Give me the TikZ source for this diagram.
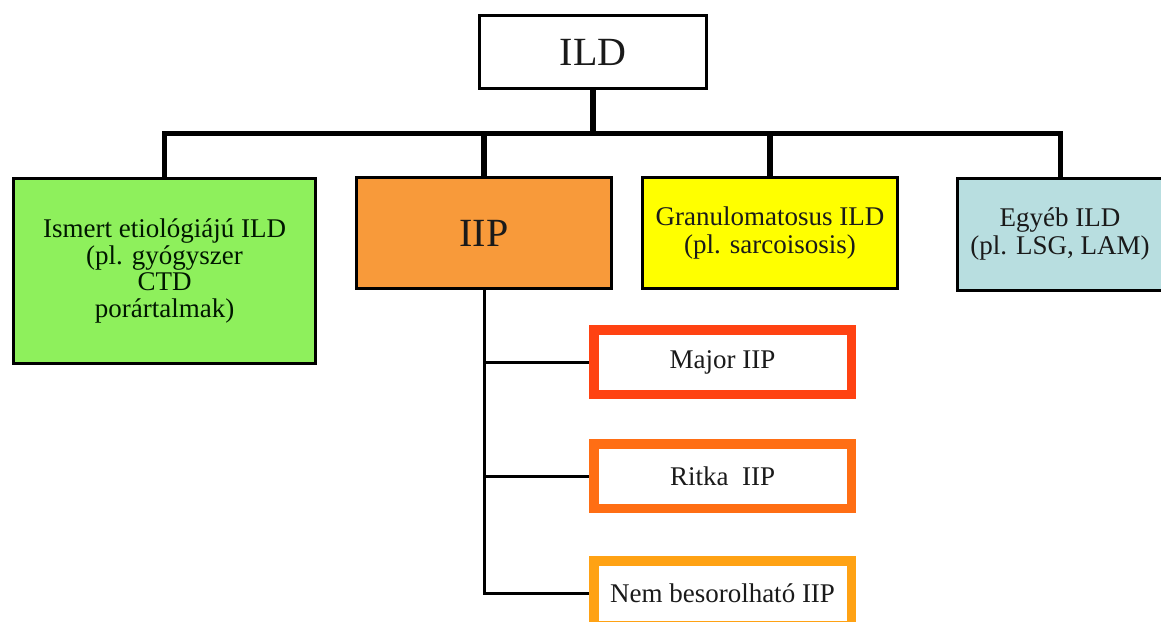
\documentclass[tikz,border=0pt]{standalone}
\usepackage{fontspec}
\setmainfont{Liberation Serif}
\definecolor{txt}{HTML}{1A1A1A}
\definecolor{greenfill}{HTML}{8EF05C}
\definecolor{orangefill}{HTML}{F89A3A}
\definecolor{yellowfill}{HTML}{FFFF00}
\definecolor{bluefill}{HTML}{B8DEE0}
\definecolor{majorc}{HTML}{FF4212}
\definecolor{ritkac}{HTML}{FF6E14}
\definecolor{nemc}{HTML}{FFA214}
\tikzset{
  box/.style={draw=black, line width=3pt, inner sep=0pt, align=center, text=txt},
  subbox/.style={draw, fill=white, line width=9.5pt, inner sep=0pt, align=center, text=txt,
    minimum width=257.5pt, minimum height=64.5pt, font=\fontsize{27}{28}\selectfont},
  bus/.style={line width=5pt, line cap=rect},
  twig/.style={line width=3pt},
}
\begin{document}
\begin{tikzpicture}[x=1pt, y=-1pt]
\useasboundingbox (0,0) rectangle (1161,621);
\clip (0,0) rectangle (1161,621);
\fill[white] (0,0) rectangle (1161,621);
% top node
\node[box, fill=white, minimum width=227pt, minimum height=73pt, font=\fontsize{40}{41}\selectfont] (ild) at (593,52) {ILD};
% second level
\node[box, fill=greenfill, minimum width=302pt, minimum height=185pt, font=\fontsize{27}{26.7}\selectfont, text=black!85!green!60!black] (green) at (164.5,271)
  {Ismert etiológiájú ILD\\(pl. gyógyszer\\CTD\\porártalmak)};
\node[box, fill=orangefill, minimum width=255pt, minimum height=111pt, font=\fontsize{40}{41}\selectfont] (iip) at (484,233) {IIP};
\node[box, fill=yellowfill, minimum width=255pt, minimum height=111pt, font=\fontsize{27}{27.5}\selectfont] (gran) at (770,233)
  {Granulomatosus ILD\\(pl. sarcoisosis)};
\node[box, fill=bluefill, minimum width=205pt, minimum height=112pt, font=\fontsize{27}{27.5}\selectfont] (egyeb) at (1060,234)
  {Egyéb ILD\\(pl. LSG, LAM)};
% IIP children
\node[subbox, draw=majorc] (major) at (722.5,362) {Major IIP};
\node[subbox, draw=ritkac] (ritka) at (722.5,476) {Ritka\ \ IIP};
\node[subbox, draw=nemc] (nem) at (722.5,593) {Nem besorolható IIP};
% bus
\coordinate (busy) at (0,133);
\draw[line width=6pt] (ild.south) -- (ild.south |- busy);
\draw[bus] (green.north) -- (green.north |- busy) -- (egyeb.north |- busy) -- (egyeb.north);
\draw[line width=5.5pt] (iip.north |- busy) -- (iip.north);
\draw[line width=5.5pt] (gran.north |- busy) -- (gran.north);
% IIP subtree
\draw[twig] (iip.south) |- (nem.west);
\draw[twig] (iip.south |- major.west) -- (major.west);
\draw[twig] (iip.south |- ritka.west) -- (ritka.west);
\end{tikzpicture}
\end{document}
